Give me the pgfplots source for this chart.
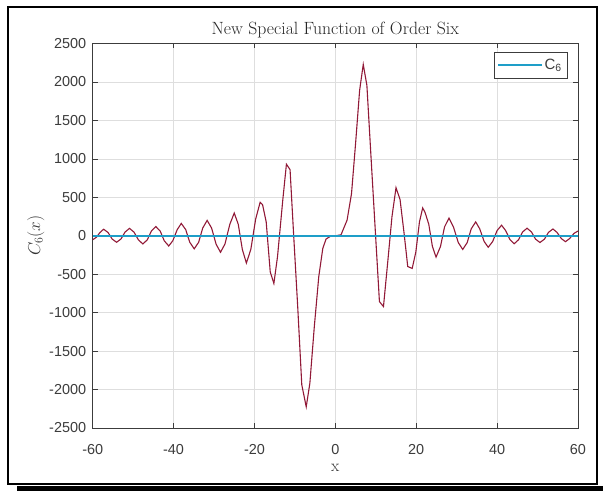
\documentclass[border=0pt]{standalone}
\usepackage{pgfplots}
\pgfplotsset{compat=1.18}
\usepackage{fontspec}
\newfontfamily\arial{Liberation Sans}
\definecolor{axgray}{RGB}{60,60,60}
\definecolor{curvered}{RGB}{145,25,55}
\definecolor{linecyan}{HTML}{1E9EC8}
\begin{document}
\begin{tikzpicture}
\useasboundingbox (0bp,0bp) rectangle (603bp,491bp);
\fill[black] (17bp,0bp) rectangle (603bp,5bp);
\draw[line width=1.2bp] (8bp,7bp) rectangle (597bp,484bp);
\begin{axis}[
  at={(92.7bp,63bp)}, anchor=south west,
  scale only axis, width=485.3bp, height=384.5bp,
  xmin=-60, xmax=60, ymin=-2500, ymax=2500,
  xtick={-60,-40,-20,0,20,40,60},
  xticklabels={-60,-40,-20,0,20,40,60},
  ytick={-2500,-2000,-1500,-1000,-500,0,500,1000,1500,2000,2500},
  yticklabels={-2500,-2000,-1500,-1000,-500,0,500,1000,1500,2000,2500},
  tick align=inside, major tick length=5bp,
  tick style={axgray, line width=0.6bp},
  axis line style={axgray, line width=0.8bp},
  grid=major, grid style={black!13, line width=0.5bp},
  ticklabel style={font=\arial\fontsize{14.5}{15}\selectfont, text=axgray},
  xticklabel style={yshift=-13bp},
  yticklabel style={xshift=-3bp},
  title={New Special Function of Order Six},
  title style={font=\fontsize{17.8}{19}\selectfont, text=black!85, yshift=-4bp},
  xlabel={x},
  xlabel style={font=\fontsize{17}{19}\selectfont, text=black!80, yshift=-3bp},
  ylabel={$C_6(x)$},
  ylabel style={font=\fontsize{17}{19}\selectfont, text=black!80, yshift=-2bp},
  legend style={at={(1,1)}, anchor=north east, xshift=-11bp, yshift=-8.5bp,
    draw=axgray, font=\arial\fontsize{15}{16}\selectfont,
    inner xsep=3bp, inner ysep=5bp, text=axgray},
  legend cell align=left,
  legend image code/.code={\draw[color=linecyan, line width=1.4bp] (0bp,0bp) -- (44bp,0bp);},
]
\addplot[color=curvered, line width=1.1bp, forget plot] coordinates {
(-60,-52) (-59.1,-20) (-58.2,42) (-57.3,85) (-56.2,42) (-55.2,-42) (-54.1,-85)
(-53.0,-42) (-52.0,48) (-50.9,96) (-49.8,48) (-48.7,-53) (-47.6,-107)
(-46.5,-53) (-45.5,60) (-44.4,120) (-43.3,60) (-42.3,-66) (-41.2,-133)
(-40.2,-66) (-39.1,80) (-38.1,160) (-37.0,80) (-36.0,-85) (-34.9,-170)
(-33.8,-85) (-32.8,100) (-31.7,200) (-30.6,100) (-29.5,-108) (-28.4,-215)
(-27.3,-108) (-26.1,148) (-25.0,295) (-24.0,148) (-23.0,-178) (-22.0,-355)
(-20.9,-178) (-19.7,218) (-18.6,435) (-18.0,405) (-17.1,180) (-16.1,-470)
(-15.2,-620) (-14.3,-272) (-13.0,463) (-12.1,930) (-11.2,860) (-10.3,0)
(-9.3,-930) (-8.3,-1938) (-7.2,-2225) (-6.3,-1916) (-5.2,-1181) (-4.1,-532)
(-3.1,-164) (-2.3,-43) (-1.1,-3) (0,0) (1.4,12) (2.9,203) (4.0,549)
(5.0,1198) (6.0,1890) (6.9,2228) (7.8,1955) (8.9,950) (10.9,-856)
(11.9,-921) (13.0,-316) (14.0,247) (15.0,625) (16.0,471) (17.0,30)
(17.9,-400) (19.0,-425) (19.9,-212) (20.8,181) (21.6,362) (22.2,300)
(23.1,150) (24.0,-139) (24.9,-278) (26.0,-139) (27.0,115) (28.1,230)
(29.2,115) (30.4,-89) (31.5,-178) (32.6,-89) (33.6,90) (34.7,180)
(35.7,90) (36.8,-75) (37.8,-150) (38.9,-75) (40.0,68) (41.1,137)
(42.1,68) (43.2,-52) (44.2,-105) (45.3,-52) (46.3,49) (47.4,98)
(48.5,49) (49.5,-44) (50.6,-88) (51.7,-44) (52.7,44) (53.8,88)
(54.8,44) (55.9,-38) (56.9,-77) (57.9,-38) (59.0,30) (60,62)
};
\addplot[color=linecyan, line width=1.6bp] coordinates {(-60,0) (-30,0) (0,0) (30,0) (60,0)};
\addlegendentry{C\textsubscript{6}}
\end{axis}
\end{tikzpicture}
\end{document}
